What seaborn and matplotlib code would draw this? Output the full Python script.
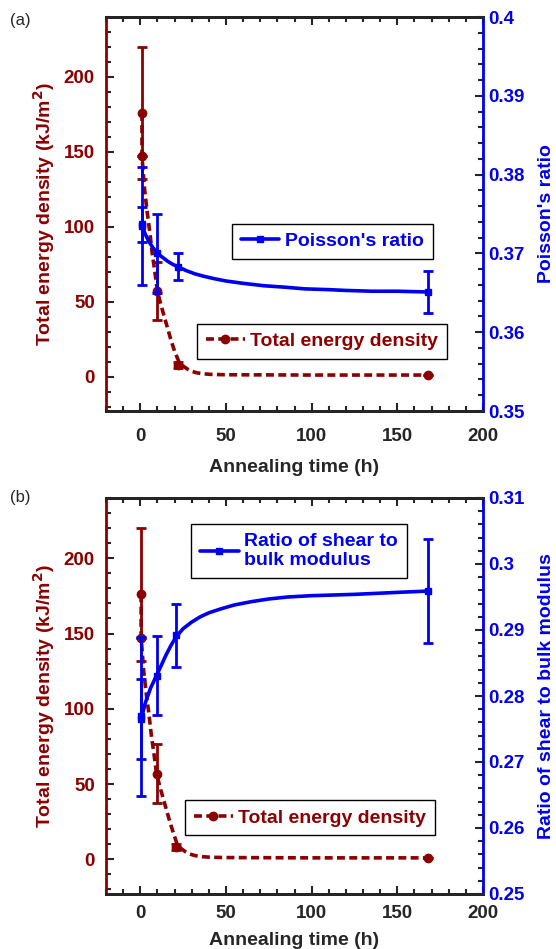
import matplotlib
matplotlib.use("Agg")
import matplotlib.pyplot as plt
from matplotlib.lines import Line2D
from matplotlib.ticker import MultipleLocator, FormatStrFormatter
import seaborn as sns
import pandas as pd

# panel (a): Poisson's ratio
pr_t = [1, 1, 10, 22, 168]
pr_v = [0.3735, 0.3737, 0.3700, 0.3683, 0.3651]
pr_err = [0.0075, 0.0022, 0.0050, 0.0017, 0.0027]
pr_curve_t = [1, 3, 5, 7.5, 10, 13, 16, 19, 22, 27, 32, 37, 43, 50, 60, 72,
              85, 96, 110, 120, 135, 150, 168]
pr_curve_v = [0.3735, 0.3724, 0.3715, 0.3707, 0.3700, 0.3695, 0.3690, 0.3686,
              0.3683, 0.3678, 0.3674, 0.3671, 0.3668, 0.3665, 0.3662, 0.3659,
              0.3657, 0.3655, 0.3654, 0.3653, 0.3652, 0.3652, 0.3651]

# panel (b): shear / bulk modulus
gk_t = [0.5, 0.5, 9.5, 21, 168]
gk_v = [0.2769, 0.2765, 0.2831, 0.2892, 0.2959]
gk_err = [0.012, 0.006, 0.006, 0.0048, 0.0079]
gk_curve_t = [0.5, 3, 6, 9.5, 12, 15, 18, 21, 25, 30, 35, 40, 47, 55, 65, 75,
              86, 100, 125, 150, 168]
gk_curve_v = [0.2765, 0.2790, 0.2812, 0.2831, 0.2845, 0.2862, 0.2877, 0.2890,
              0.2902, 0.2912, 0.2920, 0.2926, 0.2932, 0.2938, 0.2943, 0.2947,
              0.2950, 0.2952, 0.2954, 0.2957, 0.2959]

# total energy density (both panels)
en_t_a = [1, 1, 10, 22, 168]
en_t_b = [0.5, 0.5, 9.5, 21, 168]
en_v = [176, 147, 57, 8, 1]
en_err = [44, 0, 19.5, 2, 0]
en_curve_t_a = [1, 1, 2.5, 4, 5.5, 7, 8.5, 10, 12, 14, 16, 18, 20, 22.5, 25,
                27.5, 30, 33, 37, 42, 50, 100, 168]
en_curve_t_b = [0.5, 0.5, 2, 3.5, 5, 6.5, 8, 9.5, 11.5, 13.5, 15.5, 17.5, 19.5,
                21.5, 24, 26.5, 29, 32, 36, 41, 50, 100, 168]
en_curve_v = [176, 147, 125, 110, 97, 82, 70, 57, 48, 40, 32, 24, 17, 10, 7,
              5, 3.5, 2.5, 1.8, 1.4, 1.2, 1, 1]

RED = "#8B0000"
BLUE = "#0000EE"
DASH = (0, (2.2, 1.2))

sns.set_style("ticks")
plt.rcParams["font.family"] = ["Liberation Sans", "DejaVu Sans"]
plt.rcParams["font.weight"] = "bold"

fig = plt.figure(figsize=(5.56, 9.49), dpi=100)
W, H = 556, 949


def rect(x0, y0, x1, y1):
    return [x0 / W, 1 - y1 / H, (x1 - x0) / W, (y1 - y0) / H]


def panel(rc, en_t, en_ct, r_t, r_v, r_err, r_ct, r_cv, rlim, rlabel, rname,
          leg_r, leg_e, letter, lpos, xpad, xlpad):
    ax = fig.add_axes(rc)
    ax2 = ax.twinx()

    # energy density: dashed curve + markers + error bars
    sns.lineplot(data=pd.DataFrame({"t": en_ct, "v": en_curve_v}), x="t", y="v",
                 ax=ax, color=RED, lw=2.6, ls=DASH, sort=False, estimator=None)
    ax.errorbar(en_t, en_v, yerr=en_err, fmt="o", color=RED, ms=6,
                capsize=3.5, elinewidth=2, capthick=2)

    sns.lineplot(data=pd.DataFrame({"t": r_ct, "v": r_cv}), x="t", y="v",
                 ax=ax2, color=BLUE, lw=2.6, sort=False, estimator=None)
    ax2.errorbar(r_t, r_v, yerr=r_err, fmt="s", color=BLUE, ms=4,
                 capsize=3.5, elinewidth=2, capthick=2)

    ax.set_xlim(-20, 200)
    ax.set_ylim(-23, 240)
    ax2.set_ylim(*rlim)

    ax.xaxis.set_major_locator(MultipleLocator(50))
    ax.xaxis.set_minor_locator(MultipleLocator(10))
    ax.yaxis.set_major_locator(MultipleLocator(50))
    ax.yaxis.set_minor_locator(MultipleLocator(10))
    ax2.yaxis.set_major_locator(MultipleLocator(0.01))
    ax2.yaxis.set_minor_locator(MultipleLocator(0.002))
    ax2.yaxis.set_major_formatter(FormatStrFormatter("%g"))

    ax.tick_params(axis="x", which="both", direction="in", top=True,
                   labelsize=13.5, pad=xpad)
    ax.tick_params(axis="y", which="both", direction="in", labelcolor=RED,
                   labelsize=13.5, pad=8)
    ax2.tick_params(axis="y", which="both", direction="in", labelcolor=BLUE,
                    labelsize=13.5, pad=4)
    for a in (ax, ax2):
        a.tick_params(which="major", length=6, width=1.5)
        a.tick_params(which="minor", length=3.5, width=1.5)

    for s in ["top", "bottom"]:
        ax.spines[s].set_linewidth(2)
        ax.spines[s].set_color("black")
        ax2.spines[s].set_linewidth(2)
    ax.spines["left"].set_color(RED)
    ax.spines["left"].set_linewidth(2)
    ax2.spines["left"].set_visible(False)
    ax2.spines["right"].set_color(BLUE)
    ax2.spines["right"].set_linewidth(2)

    ax.set_xlabel("Annealing time (h)", fontsize=14, fontweight="bold",
                  labelpad=xlpad)
    ax.set_ylabel("Total energy density (kJ/m$^\\mathbf{2}$)", fontsize=14,
                  fontweight="bold", color=RED, labelpad=5)
    ax2.set_ylabel(rlabel, fontsize=14, fontweight="bold", color=BLUE,
                   labelpad=9)

    h_r = Line2D([], [], color=BLUE, lw=2.6, marker="s", ms=4)
    h_e = Line2D([], [], color=RED, lw=2.6, ls=DASH, marker="o", ms=6)
    common = dict(loc="upper right", fancybox=False, edgecolor="black",
                  framealpha=1, handlelength=2.0, borderpad=0.45,
                  borderaxespad=0, handletextpad=0.3, labelspacing=0.1,
                  prop={"weight": "bold", "size": 14})
    lg1 = ax2.legend([h_r], [rname], bbox_to_anchor=leg_r, labelcolor=BLUE,
                     **common)
    lg1.get_frame().set_linewidth(1)
    lg2 = ax2.legend([h_e], ["Total energy density"], bbox_to_anchor=leg_e,
                     labelcolor=RED, **common)
    lg2.get_frame().set_linewidth(1)
    ax2.add_artist(lg1)

    fig.text(lpos[0] / W, 1 - lpos[1] / H, letter, fontsize=12,
             fontweight="normal", ha="left", va="center")
    return ax, ax2


panel(rect(106, 17, 483, 411), en_t_a, en_curve_t_a, pr_t, pr_v, pr_err,
      pr_curve_t, pr_curve_v, (0.35, 0.40), "Poisson's ratio",
      "Poisson's ratio", (0.867, 0.475), (0.905, 0.221), "(a)", (10, 20),
      12, 10)

panel(rect(106, 498, 483, 894), en_t_b, en_curve_t_b, gk_t, gk_v, gk_err,
      gk_curve_t, gk_curve_v, (0.25, 0.31), "Ratio of shear to bulk modulus",
      "Ratio of shear to\nbulk modulus", (0.798, 0.934), (0.873, 0.237),
      "(b)", (10, 497), 8, 7)

fig.savefig("out.png", dpi=100)
